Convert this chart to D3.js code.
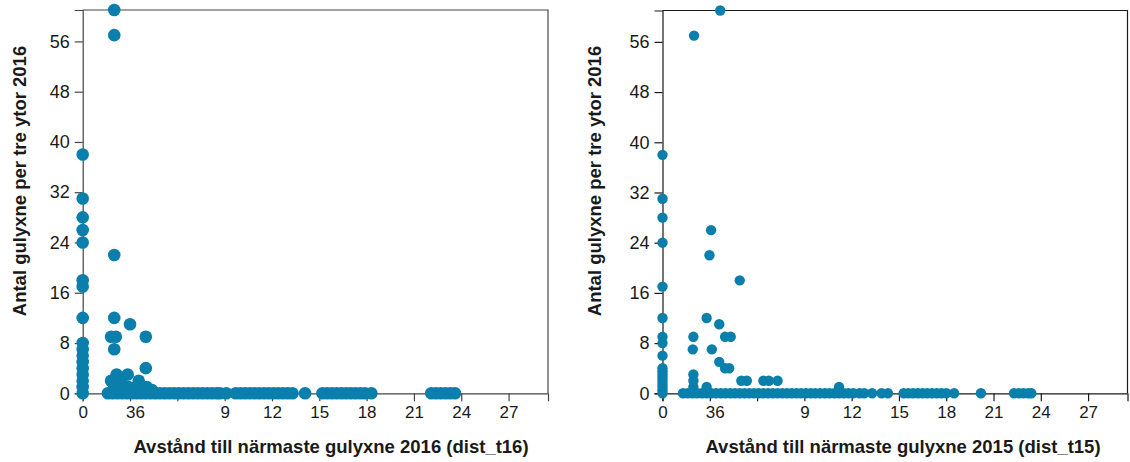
<!DOCTYPE html>
<html lang="sv">
<head>
<meta charset="utf-8">
<title>Gulyxne</title>
<script src="https://cdn.jsdelivr.net/npm/d3@7"></script>
<style>
  body { margin: 0; background: #fff; }
  text { font-family: "Liberation Sans", Arial, sans-serif; fill: #1a1a1a; }
  .ttl { font-weight: bold; font-size: 18.5px; }
</style>
</head>
<body>
<script>
// ticks
var xTicks = [0, 3, 6, 9, 12, 15, 18, 21, 24, 27];
var xTickLabels = ["0", "36", "", "9", "12", "15", "18", "21", "24", "27"];
var yTicks = [0, 8, 16, 24, 32, 40, 48, 56];

// 2016: points on x = 0
var col16 = [0, 1, 2, 3, 4, 5, 6, 7, 8, 12, 17, 18, 24, 26, 28, 31, 38];
// 2016: points off the axis, [dist, antal]
var pts16 = [[2, 61], [2, 57], [2, 22], [2, 12], [3, 11], [1.8, 9], [2.1, 9], [4, 9], [2, 7],
  [4, 4], [2.15, 3], [2.85, 3], [1.8, 2], [2.2, 2], [3.55, 2], [2.5, 1.5], [2, 1], [2.9, 1],
  [3.4, 1], [4.05, 1], [2.4, 0.5], [3.0, 0.4], [4.4, 0.5]];
// 2016: points on y = 0
var row16 = [1.6, 1.9, 2.2, 2.5, 2.8, 3.1, 3.4, 3.7, 4.0, 4.3, 4.6, 4.9, 5.2, 5.5, 5.8, 6.1,
  6.4, 6.7, 7.0, 7.3, 7.6, 7.9, 8.2, 8.5, 8.7, 9.1, 9.7, 10.0, 10.3, 10.6, 10.9, 11.2, 11.5,
  11.8, 12.1, 12.4, 12.7, 13.0, 13.3, 14.1, 15.2, 15.5, 15.8, 16.1, 16.4, 16.7, 17.0, 17.3,
  17.6, 17.9, 18.3, 22.1, 22.4, 22.7, 23.0, 23.3, 23.6];

// 2015: points on x = 0
var col15 = [0, 0.5, 1, 1.5, 2, 2.5, 3, 3.5, 4, 6, 8, 9, 12, 17, 24, 28, 31, 38];
// 2015: points off the axis
var pts15 = [[3.66, 61], [2, 57], [3.08, 26], [2.98, 22], [4.9, 18], [2.8, 12], [3.6, 11],
  [3.97, 9], [4.33, 9], [1.96, 9], [1.92, 7], [3.13, 7], [3.6, 5], [3.97, 4], [4.23, 4],
  [1.96, 3], [1.96, 2], [1.96, 1], [2.8, 1], [5.0, 2], [5.35, 2], [6.4, 2], [6.75, 2],
  [7.3, 2], [11.2, 1]];
// 2015: points on y = 0
var row15 = [1.3, 1.6, 1.9, 2.2, 2.5, 2.8, 3.1, 3.4, 3.7, 4.0, 4.3, 4.6, 4.9, 5.2, 5.5, 5.8,
  6.1, 6.4, 6.7, 7.0, 7.3, 7.6, 7.9, 8.2, 8.5, 8.8, 9.1, 9.4, 9.7, 10.0, 10.3, 10.6, 10.9,
  11.2, 11.5, 11.8, 12.1, 12.5, 12.8, 13.3, 13.9, 14.3, 15.3, 15.6, 15.9, 16.2, 16.5, 16.8,
  17.1, 17.4, 17.7, 18.0, 18.5, 20.2, 22.3, 22.6, 22.9, 23.2, 23.4];

var w = 1130, h = 462;
var svg = d3.select("body").append("svg").attr("width", w).attr("height", h);

function toPoints(col, pts, row) {
  return col.map(function(y) { return [0, y]; })
    .concat(row.map(function(x) { return [x, 0]; }))
    .concat(pts);
}

function panel(o, data) {
  var xScale = d3.scaleLinear().domain([0, 29.5]).range([o.left, o.right]);
  var yScale = d3.scaleLinear().domain([0, 61]).range([o.bottom, o.top]);
  var g = svg.append("g");

  // box top and right
  g.append("path")
    .attr("d", "M" + o.left + "," + o.top + "H" + o.right + "V" + o.bottom)
    .attr("fill", "none").attr("stroke", o.line).attr("stroke-width", 1.2);

  var xAxis = d3.axisBottom(xScale).tickValues(xTicks).tickSizeOuter(0).tickSize(8).tickPadding(5)
    .tickFormat(function(d, i) { return xTickLabels[i]; });
  var yAxis = d3.axisLeft(yScale).tickValues(yTicks).tickSizeOuter(0).tickSize(8).tickPadding(5);

  var gx = g.append("g").attr("transform", "translate(0," + o.bottom + ")").call(xAxis);
  var gy = g.append("g").attr("transform", "translate(" + o.left + ",0)").call(yAxis);
  [gx, gy].forEach(function(a) {
    a.selectAll("path, line").attr("stroke", o.line).attr("stroke-width", 1.2);
    a.selectAll("text").style("fill", "#1a1a1a")
      .style("font-family", "'Liberation Sans', Arial, sans-serif");
  });
  gx.selectAll("text").style("font-size", "17px")
    .attr("dx", function(d) { return d === 3 ? 5 : 0; });
  gy.selectAll("text").style("font-size", "18px");

  g.append("g").selectAll("circle")
    .data(data).enter().append("circle")
    .attr("cx", function(d) { return xScale(d[0]); })
    .attr("cy", function(d) { return yScale(d[1]); })
    .attr("r", o.r)
    .attr("fill", "#0a7fab");

  g.append("text").attr("class", "ttl")
    .attr("x", o.xTitleX).attr("y", 453)
    .attr("text-anchor", "middle")
    .text(o.xTitle);

  g.append("text").attr("class", "ttl")
    .attr("transform", "translate(" + o.yTitleX + "," + 181 + ") rotate(-90)")
    .attr("text-anchor", "middle")
    .text("Antal gulyxne per tre ytor 2016");
}

panel({ left: 82.7, right: 548, top: 10, bottom: 393.3, r: 6.3, line: "#444",
  xTitle: "Avstånd till närmaste gulyxne 2016 (dist_t16)", xTitleX: 331, yTitleX: 26 },
  toPoints(col16, pts16, row16));

panel({ left: 662.5, right: 1127.5, top: 10.5, bottom: 393.3, r: 5.2, line: "#1a1a1a",
  xTitle: "Avstånd till närmaste gulyxne 2015 (dist_t15)", xTitleX: 903, yTitleX: 601 },
  toPoints(col15, pts15, row15));
</script>
</body>
</html>
